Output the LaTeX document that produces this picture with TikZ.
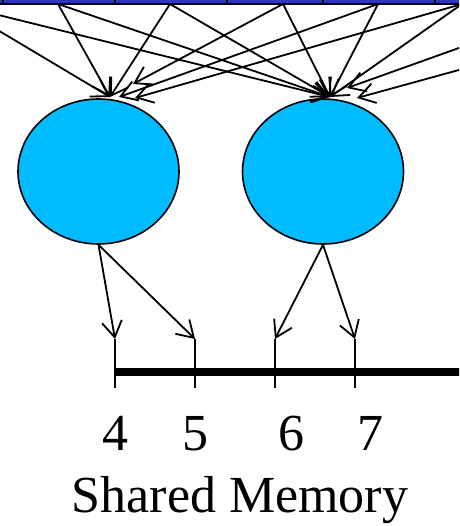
\documentclass[tikz,border=0pt]{standalone}
\usepackage{fontspec}
\setmainfont{Liberation Serif}
\usetikzlibrary{arrows.meta,shapes.geometric}
\definecolor{GlobalRowColor}{RGB}{50,50,205}
\definecolor{ThreadColor}{RGB}{0,187,255}

\begin{document}
\begin{tikzpicture}[x=1pt,y=-1pt,
  link/.style={-{Straight Barb[length=16pt,width=20pt]},line width=1.8pt},
  thread/.style={ellipse,draw,line width=1.6pt,fill=ThreadColor,minimum width=161pt,minimum height=145pt,inner sep=0pt},
  lbl/.style={anchor=base,font=\fontsize{52}{60}\selectfont,inner sep=0pt}]
\useasboundingbox (0,0) rectangle (459,526);
\clip (0,0) rectangle (459,526);
% global memory row
\fill[GlobalRowColor] (-10,-10) rectangle (470,4);
\draw[line width=1.8pt] (-10,4) -- (470,4);
\foreach \x in {3,115,227,323,435} {
   \draw[line width=1.6pt] (\x,-10) -- (\x,4);
}
\foreach \i/\x in {0/-46,1/58,2/170,3/283,4/378,5/462,6/582,7/699} {
   \coordinate (g\i) at (\x,4);
}
% the two threads
\node[thread] (th1) at (98.5,171.5) {};
\node[thread] (th2) at (323,171.5) {};
\coordinate (a1) at (110,97);
\coordinate (a2) at (133,84);
\coordinate (a3) at (119,97);
\coordinate (a4) at (135,98);
\coordinate (b1) at (330,97);
\coordinate (b2) at (347,88);
\coordinate (b3) at (357,98);
\foreach \s/\t in {g0/a1,g1/a1,g2/a1,g3/a2,g4/a3,g5/a4,
                   g0/b1,g1/b1,g2/b1,g3/b1,g4/b1,g5/b1,g6/b2,g7/b3} {
   \draw[link] (\s) -- (\t);
}
% shared memory
\foreach \n/\x in {4/115,5/195,6/275,7/355} {
   \coordinate (s\n) at (\x,339);
   \draw[line width=1.6pt] (s\n) -- ++(0,49);
}
\draw[line width=8pt] (114.2,372) -- (470,372);
\draw[link] (th1.south) -- (s4);
\draw[link] (th1.south) -- (s5);
\draw[link] (th2.south) -- (s6);
\draw[link] (th2.south) -- (s7);
\foreach \n/\x in {4/115,5/195,6/291,7/370} {
   \node[lbl] (n\n) at (\x,450) {\n};
}
\node[lbl] (title) at (240,512) {Shared Memory};
\end{tikzpicture}
\end{document}
